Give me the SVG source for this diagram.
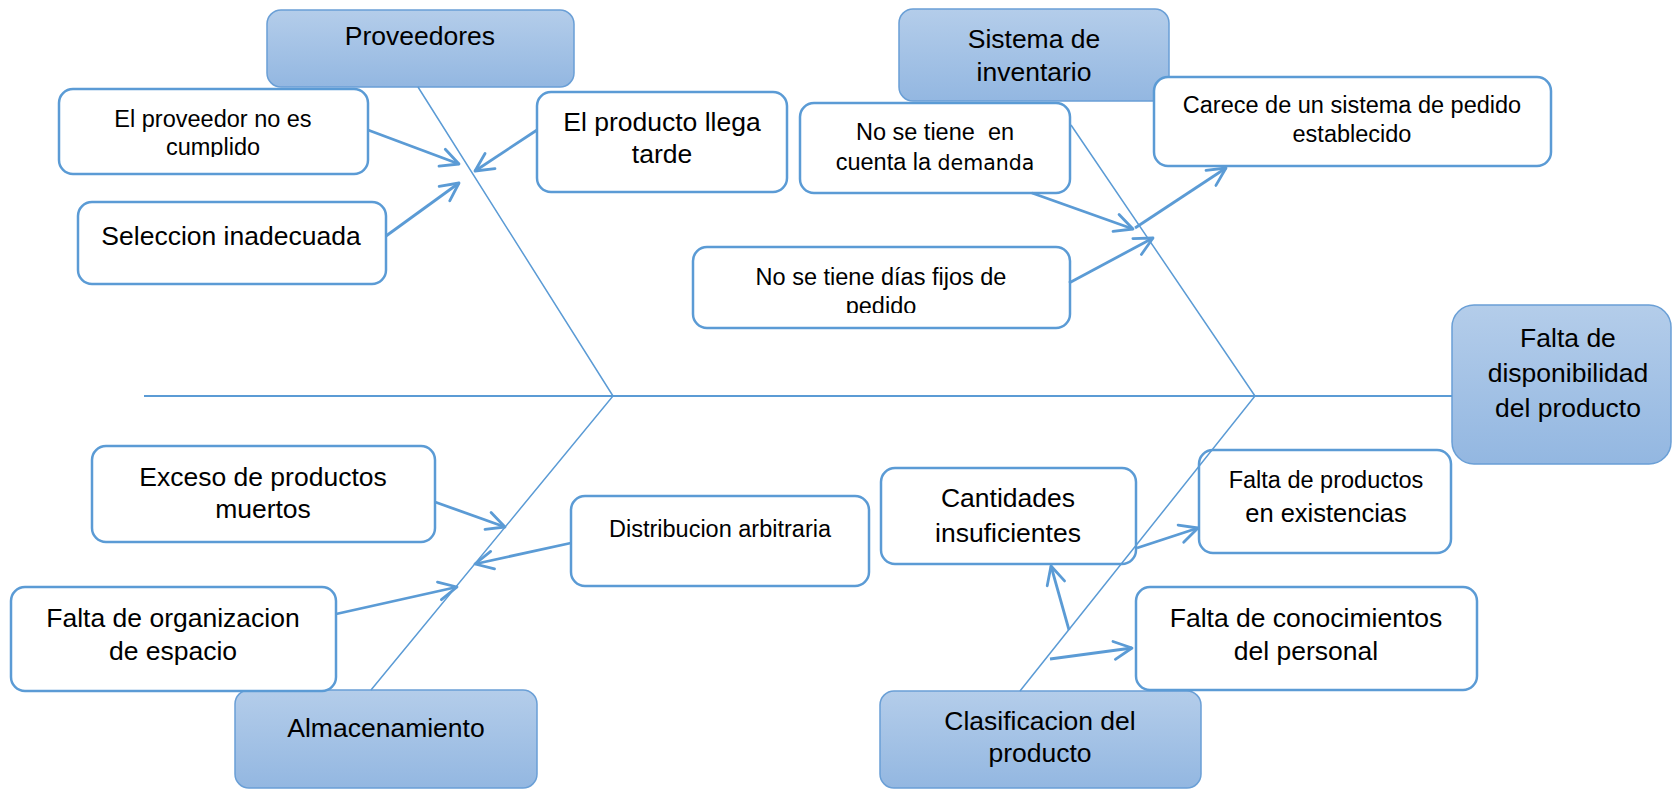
<svg xmlns="http://www.w3.org/2000/svg" width="1672" height="790" viewBox="0 0 1672 790">
<defs>
<linearGradient id="g" x1="0" y1="0" x2="0" y2="1">
<stop offset="0" stop-color="#b4cdea"/>
<stop offset="1" stop-color="#93b7e1"/>
</linearGradient>
<marker id="ah" markerUnits="userSpaceOnUse" markerWidth="26" markerHeight="26" refX="20" refY="11" orient="auto">
<path d="M2,2 L20,11 L2,20" fill="none" stroke="#5b9bd5" stroke-width="2.8" stroke-linecap="round" stroke-linejoin="round"/>
</marker>
<clipPath id="clipA"><rect x="0" y="90" width="400" height="67"/></clipPath>
<clipPath id="clipB"><rect x="690" y="247" width="400" height="66"/></clipPath>
<style>
.cause{fill:#ffffff;stroke:#5b9bd5;stroke-width:2.5}
.cat{fill:url(#g);stroke:#6a9fd6;stroke-width:1.5}
text{font-family:"Liberation Sans",Arial,sans-serif;fill:#000;text-anchor:middle}
.big{font-size:26.5px}
.small{font-size:23.5px}
.bone{fill:none;stroke:#5b9bd5;stroke-width:1.5}
.spine{fill:none;stroke:#5b9bd5;stroke-width:2}
.arr{fill:none;stroke:#5b9bd5;stroke-width:2.8;marker-end:url(#ah)}
</style>
</defs>
<rect width="1672" height="790" fill="#ffffff"/>

<g id="proveedores">
<rect class="cat" x="267" y="10" width="307" height="77" rx="14"/>
<text class="big" x="420" y="45">Proveedores</text>
</g>
<g id="sistema-inventario">
<rect class="cat" x="899" y="9" width="270" height="92" rx="14"/>
<text class="big" x="1034" y="48">Sistema de</text>
<text class="big" x="1034" y="81">inventario</text>
</g>
<g id="falta-disponibilidad">
<rect class="cat" x="1452" y="305" width="219" height="159" rx="22"/>
<text class="big" x="1568" y="347">Falta de</text>
<text class="big" x="1568" y="382">disponibilidad</text>
<text class="big" x="1568" y="417">del producto</text>
</g>
<g id="almacenamiento">
<rect class="cat" x="235" y="690" width="302" height="98" rx="14"/>
<text class="big" x="386" y="737">Almacenamiento</text>
</g>
<g id="clasificacion">
<rect class="cat" x="880" y="691" width="321" height="97" rx="14"/>
<text class="big" x="1040" y="730">Clasificacion del</text>
<text class="big" x="1040" y="762">producto</text>
</g>

<g id="proveedor-no-cumplido">
<rect class="cause" x="59" y="89" width="309" height="85" rx="14"/>
<g clip-path="url(#clipA)">
<text class="small" x="213" y="127">El proveedor no es</text>
<text class="small" x="213" y="155">cumplido</text>
</g>
</g>
<g id="seleccion-inadecuada">
<rect class="cause" x="78" y="202" width="308" height="82" rx="14"/>
<text class="big" x="231" y="245">Seleccion inadecuada</text>
</g>
<g id="producto-llega-tarde">
<rect class="cause" x="537" y="92" width="250" height="100" rx="14"/>
<text class="big" x="662" y="131">El producto llega</text>
<text class="big" x="662" y="163">tarde</text>
</g>
<g id="no-demanda">
<rect class="cause" x="800" y="103" width="270" height="90" rx="14"/>
<text class="small" x="935" y="140" xml:space="preserve">No se tiene  en</text>
<text class="small" x="935" y="170">cuenta la <tspan style="font-family:'DejaVu Sans',sans-serif;font-size:20.5px">demanda</tspan></text>
</g>
<g id="carece-sistema">
<rect class="cause" x="1154" y="77" width="397" height="89" rx="14"/>
<text class="small" x="1352" y="113">Carece de un sistema de pedido</text>
<text class="small" x="1352" y="142">establecido</text>
</g>
<g id="no-dias-fijos">
<rect class="cause" x="693" y="247" width="377" height="81" rx="14"/>
<g clip-path="url(#clipB)">
<text class="small" x="881" y="285">No se tiene días fijos de</text>
<text class="small" x="881" y="314">pedido</text>
</g>
</g>
<g id="exceso-productos">
<rect class="cause" x="92" y="446" width="343" height="96" rx="14"/>
<text class="big" x="263" y="486">Exceso de productos</text>
<text class="big" x="263" y="518">muertos</text>
</g>
<g id="distribucion">
<rect class="cause" x="571" y="496" width="298" height="90" rx="14"/>
<text class="small" x="720" y="537">Distribucion arbitraria</text>
</g>
<g id="falta-organizacion">
<rect class="cause" x="11" y="587" width="325" height="104" rx="14"/>
<text class="big" x="173" y="627">Falta de organizacion</text>
<text class="big" x="173" y="660">de espacio</text>
</g>
<g id="cantidades">
<rect class="cause" x="881" y="468" width="255" height="96" rx="14"/>
<text class="big" x="1008" y="507">Cantidades</text>
<text class="big" x="1008" y="542">insuficientes</text>
</g>
<g id="falta-productos">
<rect class="cause" x="1199" y="450" width="252" height="103" rx="14"/>
<text class="small" x="1326" y="488">Falta de productos</text>
<text x="1326" y="522" style="font-size:25.5px">en existencias</text>
</g>
<g id="falta-conocimientos">
<rect class="cause" x="1136" y="587" width="341" height="103" rx="14"/>
<text class="big" x="1306" y="627">Falta de conocimientos</text>
<text class="big" x="1306" y="660">del personal</text>
</g>

<g id="connectors">
<path class="spine" d="M144,396 H1452"/>
<path class="bone" d="M418,87 L613,396 L371,690"/>
<path class="bone" d="M1071,125 L1255,396 L1020,691"/>
<path class="arr" d="M368,130 L459,164"/>
<path class="arr" d="M386,236 L459,183"/>
<path class="arr" d="M537,130 L475,171"/>
<path class="arr" d="M1032,193 L1133,229"/>
<path class="arr" d="M1069,283 L1153,238"/>
<path class="arr" d="M1135,228 L1226,168"/>
<path class="arr" d="M435,502 L505,527"/>
<path class="arr" d="M571,543 L475,564"/>
<path class="arr" d="M336,614 L457,587"/>
<path class="arr" d="M1069,630 L1051,566"/>
<path class="arr" d="M1137,548 L1198,528"/>
<path class="arr" d="M1050,659 L1132,648"/>
</g>
</svg>
